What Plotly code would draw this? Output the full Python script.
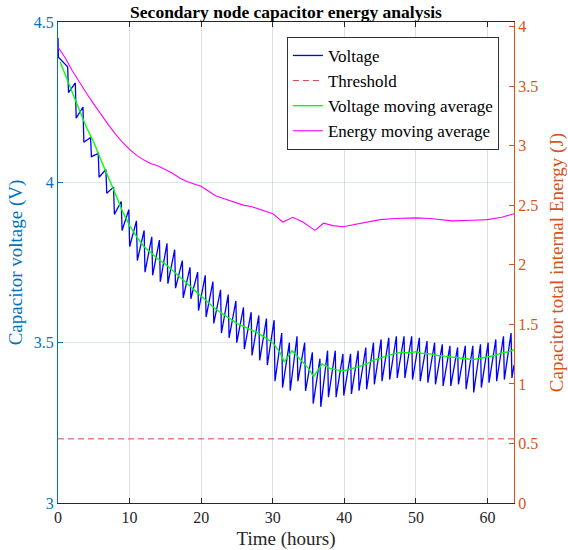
import plotly.graph_objects as go

# ---------------- data ----------------
# start of the voltage record (hours, volts)
v_start_t = [0.0, 0.05]
v_start = [4.45, 4.39]

# time of each discharge drop (hours)
drop_t = [1.35, 2.42, 3.49, 4.55, 5.62, 6.69, 7.76, 8.83, 9.89, 10.96,
          12.03, 13.10, 14.17, 15.23, 16.30, 17.37, 18.44, 19.51, 20.57, 21.64,
          22.71, 23.78, 24.85, 25.91, 26.98, 28.05, 29.12, 30.19, 31.25, 32.32,
          33.39, 34.46, 35.53, 36.59, 37.66, 38.73, 39.80, 40.87, 41.93, 43.00,
          44.07, 45.14, 46.21, 47.27, 48.34, 49.41, 50.48, 51.55, 52.61, 53.68,
          54.75, 55.82, 56.89, 57.95, 59.02, 60.09, 61.16, 62.23, 63.29]
# voltage just before each drop (V)
v_peak = [4.36, 4.31, 4.235, 4.14, 4.09, 4.04, 3.985, 3.94, 3.915, 3.88,
          3.85, 3.83, 3.82, 3.81, 3.79, 3.756, 3.735, 3.72, 3.71, 3.69,
          3.665, 3.65, 3.63, 3.61, 3.595, 3.585, 3.575, 3.57, 3.53, 3.50,
          3.52, 3.50, 3.47, 3.45, 3.475, 3.475, 3.465, 3.465, 3.475, 3.485,
          3.50, 3.51, 3.515, 3.52, 3.52, 3.52, 3.515, 3.505, 3.50, 3.495,
          3.49, 3.485, 3.49, 3.49, 3.495, 3.50, 3.51, 3.52, 3.53]
# voltage just after each drop (V)
v_trough = [4.28, 4.20, 4.125, 4.08, 4.016, 3.966, 3.90, 3.85, 3.80, 3.756,
            3.72, 3.71, 3.69, 3.684, 3.67, 3.64, 3.637, 3.60, 3.58, 3.56,
            3.53, 3.515, 3.50, 3.48, 3.46, 3.445, 3.43, 3.38, 3.36, 3.35,
            3.38, 3.35, 3.31, 3.30, 3.33, 3.33, 3.335, 3.34, 3.35, 3.355,
            3.37, 3.38, 3.385, 3.39, 3.39, 3.385, 3.38, 3.375, 3.37, 3.365,
            3.365, 3.37, 3.355, 3.345, 3.36, 3.375, 3.38, 3.385, 3.39]
v_end_t = [63.7]
v_end = [3.43]

# voltage moving average
vma_t = [0.3, 1, 2, 3, 4, 5, 6, 7, 8, 9, 10, 11, 12, 13, 14, 15, 16, 17, 18, 19,
         20, 21, 22, 23, 24, 25, 26, 27, 28, 29, 30, 31, 31.6, 32.7, 34, 35, 35.7,
         36.9, 38, 39, 40, 41, 42, 43, 44, 45, 46, 47, 48, 49, 50, 51, 52, 53, 54,
         55, 56, 57, 58, 59, 60, 61, 62, 63, 63.7]
vma_v = [4.375, 4.335, 4.28, 4.225, 4.17, 4.125, 4.07, 4.02, 3.965, 3.91,
         3.865, 3.83, 3.80, 3.78, 3.76, 3.745, 3.725, 3.705, 3.685, 3.665,
         3.645, 3.625, 3.605, 3.59, 3.575, 3.56, 3.55, 3.54, 3.53, 3.515,
         3.50, 3.47, 3.44, 3.475, 3.445, 3.42, 3.394, 3.434, 3.42, 3.415,
         3.413, 3.418, 3.425, 3.432, 3.445, 3.452, 3.46, 3.466, 3.47, 3.468,
         3.472, 3.466, 3.465, 3.46, 3.458, 3.456, 3.452, 3.45, 3.447, 3.452,
         3.455, 3.46, 3.468, 3.472, 3.478]

# energy moving average (J)
e_t = [0, 1, 2, 3, 4, 5, 6, 7, 8, 9, 10, 11, 12, 13, 14, 15, 16, 17, 18, 19,
       20, 21, 22, 23, 24, 25, 26, 27, 28, 29, 30, 31.4, 32.8, 34.2, 35.9, 37.1,
       38.4, 39.8, 41.6, 43.5, 45, 47, 50, 52, 55, 58, 60, 62, 63.7]
e_v = [3.83, 3.74, 3.63, 3.53, 3.44, 3.35, 3.26, 3.18, 3.10, 3.03,
       2.97, 2.92, 2.88, 2.85, 2.83, 2.80, 2.77, 2.73, 2.70, 2.68,
       2.66, 2.62, 2.58, 2.56, 2.54, 2.52, 2.50, 2.49, 2.47, 2.45,
       2.43, 2.36, 2.40, 2.36, 2.29, 2.35, 2.33, 2.32, 2.34, 2.36,
       2.38, 2.39, 2.395, 2.39, 2.37, 2.375, 2.38, 2.40, 2.43]

threshold_v = 3.2
x_max = 63.7

x_ticks = [0, 10, 20, 30, 40, 50, 60]
y_ticks = [3, 3.5, 4, 4.5]
y2_ticks = [0, 0.5, 1, 1.5, 2, 2.5, 3, 3.5, 4]

assert len(drop_t) == len(v_peak) == len(v_trough)
assert len(vma_t) == len(vma_v)
assert len(e_t) == len(e_v)

# ---------------- build the voltage trace ----------------
drop_len = 0.12
vt = list(v_start_t)
vv = list(v_start)
for t, hi, lo in zip(drop_t, v_peak, v_trough):
    vt += [t, t + drop_len]
    vv += [hi, lo]
vt += v_end_t
vv += v_end

FONT = "Liberation Serif"
BLUE_AX = "#0072BD"
ORANGE_AX = "#D95319"
TICK_FS = 16
LABEL_FS = 19

fig = go.Figure()
fig.add_trace(go.Scatter(x=vt, y=vv, mode="lines", name="Voltage",
                         line=dict(color="#0000FF", width=1.3), yaxis="y"))
fig.add_trace(go.Scatter(x=[0, x_max], y=[threshold_v, threshold_v], mode="lines",
                         name="Threshold",
                         line=dict(color="rgb(215,70,70)", width=1, dash="6px,4px"),
                         yaxis="y"))
fig.add_trace(go.Scatter(x=vma_t, y=vma_v, mode="lines",
                         name="Voltage moving average",
                         line=dict(color="#00FF00", width=1.4), yaxis="y"))
fig.add_trace(go.Scatter(x=e_t, y=e_v, mode="lines",
                         name="Energy moving average",
                         line=dict(color="#FF00FF", width=1.1), yaxis="y2"))

fig.update_layout(
    width=568, height=550,
    template="none",
    paper_bgcolor="white", plot_bgcolor="white",
    margin=dict(l=58, r=54, t=22, b=47, pad=0),
    font=dict(family=FONT, size=TICK_FS, color="black"),
    title=dict(text="<b>Secondary node capacitor energy analysis</b>",
               x=0.5, xref="paper", y=1 - 12 / 550, yref="container",
               xanchor="center", yanchor="middle",
               font=dict(family=FONT, size=17.5, color="black")),
    showlegend=True,
    legend=dict(x=0.502, y=0.969, xanchor="left", yanchor="top",
                bgcolor="white", bordercolor="#333333", borderwidth=1,
                font=dict(family=FONT, size=17, color="black"),
                tracegroupgap=0, itemwidth=30),
    xaxis=dict(range=[0, x_max], tickvals=x_ticks, ticktext=[str(v) for v in x_ticks],
               showgrid=True, gridcolor="rgb(222,222,222)", gridwidth=1,
               zeroline=False, showline=True, linecolor="#262626", linewidth=1,
               mirror="ticks", ticks="inside", ticklen=5, tickcolor="#262626",
               tickfont=dict(family=FONT, size=TICK_FS, color="#262626"),
               automargin=False,
               title=dict(text="Time (hours)", standoff=6,
                          font=dict(family=FONT, size=LABEL_FS, color="#262626"))),
    yaxis=dict(range=[3, 4.5], tickvals=y_ticks, ticktext=["3", "3.5", "4", "4.5"],
               showgrid=True, gridcolor="rgba(0,114,189,0.15)", gridwidth=1,
               zeroline=False, showline=True, linecolor=BLUE_AX, linewidth=1,
               ticks="inside", ticklen=5, tickcolor=BLUE_AX,
               tickfont=dict(family=FONT, size=TICK_FS, color=BLUE_AX),
               automargin=False,
               title=dict(text="Capacitor voltage (V)", standoff=6,
                          font=dict(family=FONT, size=LABEL_FS, color=BLUE_AX))),
    yaxis2=dict(range=[0, 4.04], tickvals=y2_ticks,
                ticktext=["0", "0.5", "1", "1.5", "2", "2.5", "3", "3.5", "4"],
                overlaying="y", side="right", anchor="x",
                showgrid=False, zeroline=False, showline=True,
                linecolor=ORANGE_AX, linewidth=1,
                ticks="inside", ticklen=5, tickcolor=ORANGE_AX,
                tickfont=dict(family=FONT, size=TICK_FS, color=ORANGE_AX),
                automargin=False,
                title=dict(text="Capacitor total internal Energy (J)", standoff=12,
                           font=dict(family=FONT, size=LABEL_FS, color=ORANGE_AX))),
)

fig.write_html("out.html")
